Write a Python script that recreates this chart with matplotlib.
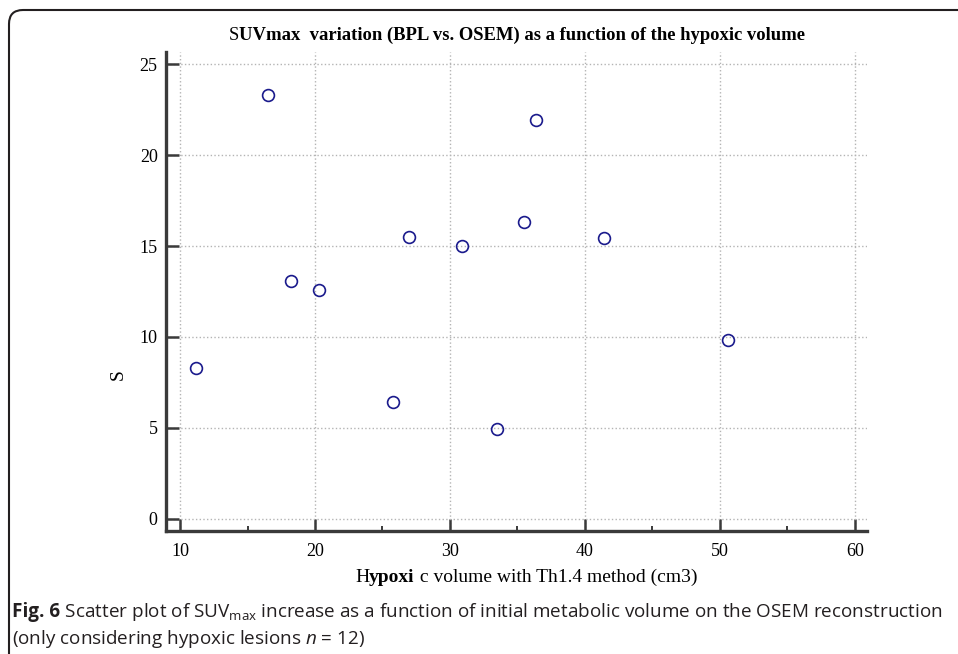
import matplotlib
matplotlib.use("Agg")
import matplotlib.pyplot as plt
from matplotlib.patches import FancyBboxPatch
from matplotlib.transforms import IdentityTransform
from matplotlib.ticker import MultipleLocator

# hypoxic volume (cm3) and SUVmax variation
volume = [16.5, 36.4, 35.5, 27.0, 30.9, 41.4, 18.2, 20.3, 50.6, 11.2, 25.8, 33.5]
suv_var = [23.3, 21.9, 16.3, 15.5, 15.0, 15.45, 13.05, 12.6, 9.85, 8.3, 6.45, 4.95]

xticks = [10, 20, 30, 40, 50, 60]
yticks = [0, 5, 10, 15, 20, 25]

W, H = 958, 654
plt.rcParams["font.family"] = "Liberation Serif"
plt.rcParams["mathtext.fontset"] = "custom"
plt.rcParams["mathtext.rm"] = "Open Sans"
plt.rcParams["mathtext.it"] = "Open Sans:italic"

fig = plt.figure(figsize=(W / 100, H / 100), dpi=100)
ax = fig.add_axes([166 / W, 1 - 531 / H, (867 - 166) / W, (531 - 52) / H])

ax.plot(volume, suv_var, "o", mfc="none", mec="#1a1a8c", ms=8.5, mew=1.2, zorder=3)

ax.set_xlim(8.96, 60.9)
ax.set_ylim(-0.66, 25.66)
ax.set_xticks(xticks)
ax.set_yticks(yticks)
ax.xaxis.set_minor_locator(MultipleLocator(5))
ax.grid(True, which="major", linestyle=":", color="#b4b4b4", lw=1.0)

for s in ["top", "right"]:
    ax.spines[s].set_visible(False)
for s in ["left", "bottom"]:
    ax.spines[s].set_linewidth(2.4)
    ax.spines[s].set_color("#3a3a3a")

ax.tick_params(which="major", direction="in", length=9, width=1.8, color="#3a3a3a",
               labelsize=13, pad=6)
ax.tick_params(axis="x", which="major", pad=9)
ax.tick_params(axis="x", which="minor", direction="in", length=3.5, width=1.4, color="#3a3a3a")
ax.tick_params(axis="y", which="minor", length=0)

renderer = fig.canvas.get_renderer()


def rich_text(x, y, pieces, center=False, **kw):
    # place text pieces one after another (pixel coords, from bottom-left)
    texts = []
    for s, props in pieces:
        t = fig.text(0, 0, s, transform=IdentityTransform(), ha="left", va="baseline", **kw, **props)
        texts.append(t)
    widths = [t.get_window_extent(renderer).width for t in texts]
    if center:
        x = x - sum(widths) / 2
    for t, w in zip(texts, widths):
        t.set_position((x, y))
        x += w


rich_text(517, H - 40, [("S", {"fontweight": "normal"}),
                        ("UVmax  variation (BPL vs. OSEM) as a function of the hypoxic volume",
                         {"fontweight": "bold"})], center=True, fontsize=13.4)

rich_text(355, H - 582, [("H", {"fontweight": "normal"}),
                         ("ypoxi", {"fontweight": "bold"}),
                         (" c volume with Th1.4 method (cm3)", {"fontweight": "normal"})],
          fontsize=14)

fig.text(118 / W, 1 - 375 / H, "S", rotation=90, ha="center", va="center", fontsize=14)

rich_text(12, H - 617, [("Fig. 6", {"fontweight": "bold"}),
                        (" Scatter plot of SUV$_{\\mathrm{max}}$ increase as a function of initial "
                         "metabolic volume on the OSEM reconstruction", {})],
          family="Open Sans", fontsize=13.6, color="#231f20")
fig.text(12, H - 644, "(only considering hypoxic lesions $n$ = 12)", transform=IdentityTransform(),
         ha="left", va="baseline", family="Open Sans", fontsize=13.6, color="#231f20")

border = FancyBboxPatch((9, -30), 1200, H - 10 + 30, boxstyle="round,pad=0,rounding_size=14",
                        transform=IdentityTransform(), fill=False, ec="#231f20", lw=1.5)
fig.patches.append(border)

fig.savefig("out.png", dpi=100)
